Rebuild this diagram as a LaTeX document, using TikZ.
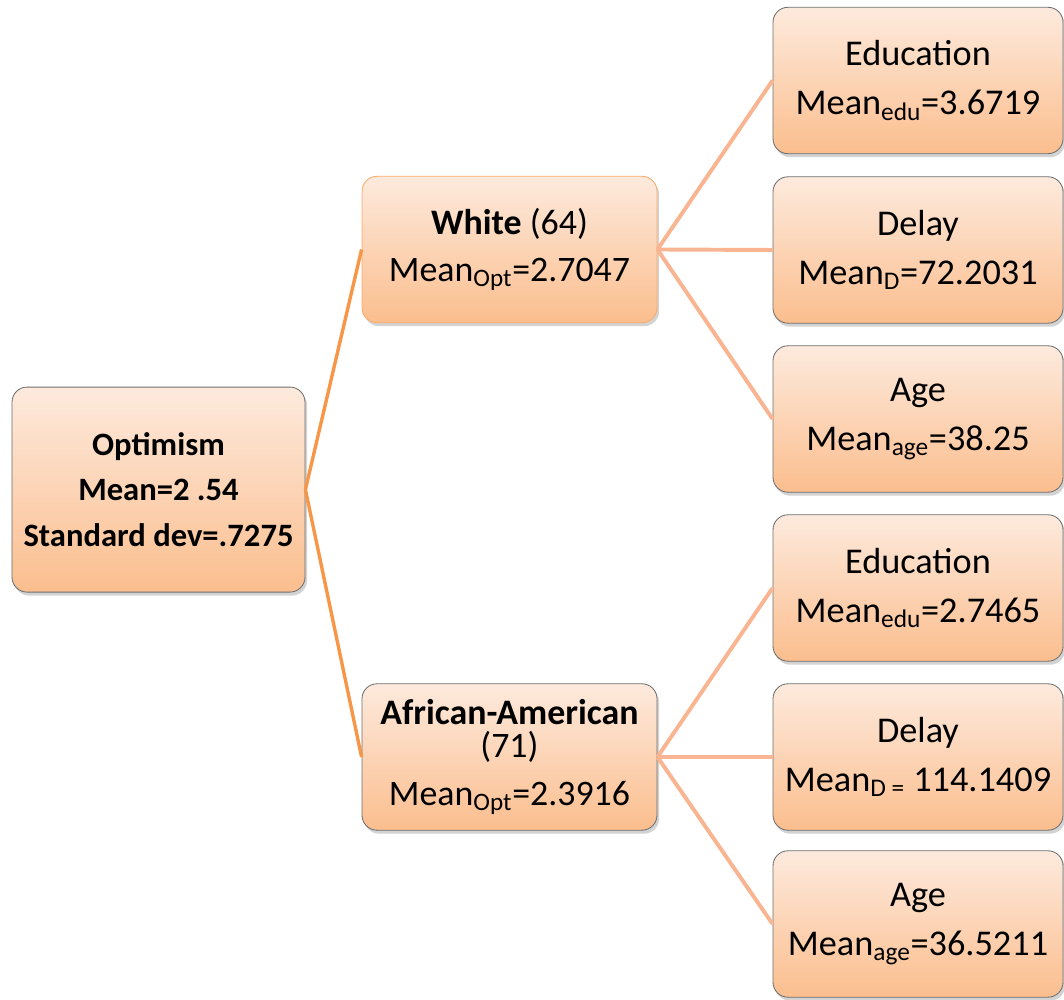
\documentclass[tikz,border=0pt]{standalone}
\usepackage{fontspec}
\setmainfont{Carlito}
\usetikzlibrary{shadows,positioning}
\definecolor{boxtop}{RGB}{253,234,221}
\definecolor{boxbot}{RGB}{251,190,142}
\definecolor{boxline}{RGB}{110,110,110}
\definecolor{darkleg}{RGB}{247,150,70}
\definecolor{lightleg}{RGB}{249,180,145}
\tikzset{
  grpbox/.style={
    rectangle, rounded corners=0.375cm,
    draw=boxline, line width=0.6pt,
    top color=boxtop, bottom color=boxbot,
    drop shadow={opacity=0.35, shadow xshift=1.5pt, shadow yshift=-2.5pt},
    align=center, inner sep=0pt
  },
  rootbox/.style={grpbox, minimum width=7.325cm, minimum height=5.125cm,
    font=\bfseries\fontsize{23.2}{32.5}\selectfont},
  midbox/.style={grpbox, minimum width=7.375cm, minimum height=3.66cm,
    font=\fontsize{25.5}{33}\selectfont},
  leafbox/.style={grpbox, minimum width=7.25cm, minimum height=3.66cm,
    font=\fontsize{25.8}{35}\selectfont},
  rootleg/.style={draw=darkleg, line width=2.4pt},
  leafleg/.style={draw=lightleg, line width=2.8pt}
}

\begin{document}
\begin{tikzpicture}
\useasboundingbox (0,0) rectangle (26.6,25);

\node[rootbox] (opt) at (3.9625,12.76)
  {Optimism\\Mean=2 .54\\Standard dev=.7275};

\node[midbox, draw=darkleg!80] (white) at (12.7375,18.7625)
  {\textbf{White} (64)\\Mean\textsubscript{Opt}=2.7047};
\node[midbox] (afam) at (12.7375,6.075)
  {\textbf{African-American}\\[-9pt](71)\\[1pt]Mean\textsubscript{Opt}=2.3916};

% white branch
\node[leafbox] (edu1) at (22.95,22.9875) {Education\\Mean\textsubscript{edu}=3.6719};
\node[leafbox] (del1) at (22.95,18.75)   {Delay\\Mean\textsubscript{D}=72.2031};
\node[leafbox] (age1) at (22.95,14.525)  {Age\\Mean\textsubscript{age}=38.25};

% african-american branch
\node[leafbox] (edu2) at (22.95,10.3)  {Education\\Mean\textsubscript{edu}=2.7465};
\node[leafbox] (del2) at (22.95,6.075) {Delay\\Mean\textsubscript{D =} 114.1409};
\node[leafbox] (age2) at (22.95,1.9)   {Age\\Mean\textsubscript{age}=36.5211};

\begin{scope}[on background layer/.try]
\draw[rootleg] (opt.east) -- (white.west);
\draw[rootleg] (opt.east) -- (afam.west);
\foreach \leaf in {edu1,del1,age1}
  \draw[leafleg] (white.east) -- (\leaf.west);
\foreach \leaf in {edu2,del2,age2}
  \draw[leafleg] (afam.east) -- (\leaf.west);
\end{scope}
\end{tikzpicture}
\end{document}
